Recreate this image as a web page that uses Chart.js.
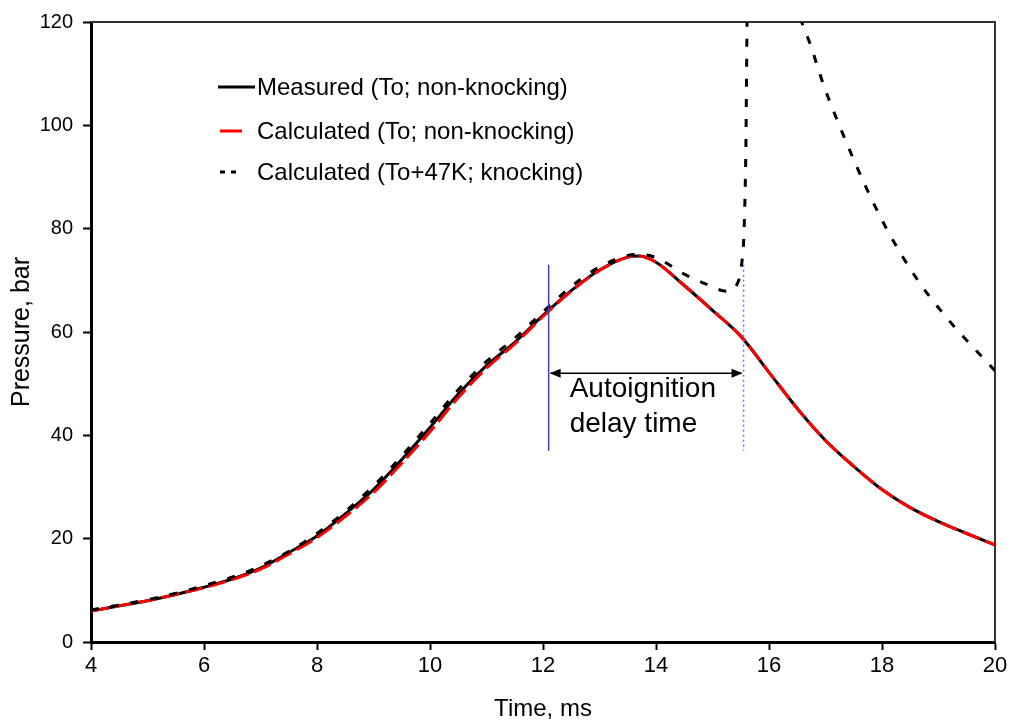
<!DOCTYPE html>
<html>
<head>
<meta charset="utf-8">
<title>Pressure vs time</title>
<script src="https://cdn.jsdelivr.net/npm/chart.js@4.4.1/dist/chart.umd.min.js"></script>
<style>
  html, body { margin: 0; padding: 0; background: #fff; }
  #wrap { width: 1013px; height: 728px; }
</style>
</head>
<body>
<div id="wrap"><canvas id="chart" width="1013" height="728"></canvas></div>
<script>
// pressure traces, time in ms, pressure in bar
const timeMs = [4.0, 4.5, 5.0, 5.5, 6.0, 6.5, 7.0, 7.5, 8.0, 8.5, 9.0, 9.5, 10.0, 10.5, 11.0, 11.5, 12.0, 12.5, 13.0, 13.5, 13.7, 14.0, 14.5, 15.0, 15.5, 16.0, 16.5, 17.0, 17.5, 18.0, 18.5, 19.0, 19.5, 20.0];
const measuredBar = [6.0, 7.0, 8.0, 9.2, 10.6, 12.2, 14.3, 17.3, 20.5, 24.8, 29.5, 35.3, 41.5, 48.0, 53.5, 58.0, 63.2, 68.0, 72.0, 74.5, 74.7, 73.5, 69.0, 64.2, 59.2, 52.2, 45.2, 39.0, 34.0, 29.5, 26.0, 23.3, 21.0, 18.8];
const calculatedBar = [6.0, 7.0, 8.0, 9.2, 10.5, 12.1, 14.1, 17.0, 20.2, 24.3, 28.9, 34.6, 40.7, 47.3, 53.0, 57.7, 63.0, 67.9, 71.9, 74.5, 74.7, 73.5, 69.0, 64.2, 59.2, 52.2, 45.2, 39.0, 34.0, 29.5, 26.0, 23.3, 21.0, 18.8];

// knocking case: follows the others, then ignites and leaves the plot
const knockTime = [4.0, 5.0, 6.0, 7.0, 8.0, 9.0, 10.0, 10.5, 11.0, 11.5, 12.0, 12.5, 13.0, 13.5, 13.7, 14.0, 14.5, 14.9, 15.25, 15.45, 15.52, 15.56, 15.59, 15.62, 16.45, 16.58, 16.73, 16.96, 17.32, 17.73, 18.08, 18.61, 19.15, 20.0];
const knockBar = [6.2, 8.2, 10.9, 14.7, 21.0, 30.2, 42.3, 48.8, 54.3, 58.8, 63.9, 68.8, 72.6, 74.8, 75.0, 74.4, 71.2, 69.2, 67.9, 69.6, 73.5, 80.0, 95.0, 125.0, 125.0, 120.0, 115.7, 108.0, 98.0, 87.7, 80.0, 70.4, 62.7, 52.5];

const xTicks = [4, 6, 8, 10, 12, 14, 16, 18, 20];
const yTicks = [0, 20, 40, 60, 80, 100, 120];

// autoignition delay markers
const delayStart = 12.1;
const delayEnd = 15.55;
const markerSpan = [37, 73];
const arrowLevel = 52;

const legendItems = ['Measured (To; non-knocking)', 'Calculated (To; non-knocking)', 'Calculated (To+47K; knocking)'];

function points(xs, ys) {
  return xs.map((x, i) => ({ x: x, y: ys[i] }));
}

const sans = "'Liberation Sans', Arial, sans-serif";

// thin frame on top and right, like the plot box
const framePlugin = {
  id: 'frame',
  beforeDatasetsDraw(chart) {
    const { ctx, chartArea: a } = chart;
    ctx.save();
    ctx.setLineDash([]);
    ctx.strokeStyle = '#333';
    ctx.lineWidth = 2;
    ctx.beginPath();
    ctx.moveTo(a.left, a.top);
    ctx.lineTo(a.right, a.top);
    ctx.lineTo(a.right, a.bottom);
    ctx.stroke();
    ctx.restore();
  }
};

// delay-time markers, arrow and text
const delayPlugin = {
  id: 'delay',
  afterDatasetsDraw(chart) {
    const { ctx, scales: { x, y } } = chart;
    const x0 = x.getPixelForValue(delayStart);
    const x1 = x.getPixelForValue(delayEnd);
    const yTop = y.getPixelForValue(markerSpan[1]);
    const yBot = y.getPixelForValue(markerSpan[0]);
    const yArr = y.getPixelForValue(arrowLevel);
    ctx.save();
    ctx.setLineDash([]);
    ctx.strokeStyle = '#3c3cd0';
    ctx.lineWidth = 1.5;
    ctx.beginPath();
    ctx.moveTo(x0, yTop);
    ctx.lineTo(x0, yBot);
    ctx.stroke();
    ctx.strokeStyle = '#7070ff';
    ctx.setLineDash([2, 3]);
    ctx.beginPath();
    ctx.moveTo(x1, yTop);
    ctx.lineTo(x1, yBot);
    ctx.stroke();
    ctx.setLineDash([]);

    ctx.strokeStyle = '#000';
    ctx.fillStyle = '#000';
    ctx.lineWidth = 1.5;
    ctx.beginPath();
    ctx.moveTo(x0 + 2, yArr);
    ctx.lineTo(x1 - 2, yArr);
    ctx.stroke();
    [[x0 + 1, 1], [x1 - 1, -1]].forEach(([px, dir]) => {
      ctx.beginPath();
      ctx.moveTo(px, yArr);
      ctx.lineTo(px + dir * 11, yArr - 4.5);
      ctx.lineTo(px + dir * 11, yArr + 4.5);
      ctx.closePath();
      ctx.fill();
    });

    ctx.font = '28px ' + sans;
    ctx.textAlign = 'left';
    ctx.textBaseline = 'alphabetic';
    ctx.fillText('Autoignition', x0 + 21, yArr + 24);
    ctx.fillText('delay time', x0 + 21, yArr + 59);
    ctx.restore();
  }
};

// legend inside the plot
const legendPlugin = {
  id: 'innerLegend',
  afterDraw(chart) {
    const { ctx } = chart;
    const rows = [87, 131, 172];
    ctx.save();
    ctx.setLineDash([]);
    ctx.lineWidth = 3;
    ctx.strokeStyle = '#000';
    ctx.beginPath();
    ctx.moveTo(218, rows[0]);
    ctx.lineTo(255, rows[0]);
    ctx.stroke();
    ctx.strokeStyle = '#ff0000';
    ctx.beginPath();
    ctx.moveTo(220, rows[1]);
    ctx.lineTo(242, rows[1]);
    ctx.stroke();
    ctx.strokeStyle = '#000';
    ctx.beginPath();
    ctx.moveTo(220, rows[2]);
    ctx.lineTo(225, rows[2]);
    ctx.moveTo(231, rows[2]);
    ctx.lineTo(236, rows[2]);
    ctx.stroke();

    ctx.fillStyle = '#000';
    ctx.font = '24px ' + sans;
    ctx.textAlign = 'left';
    ctx.textBaseline = 'middle';
    legendItems.forEach((txt, i) => ctx.fillText(txt, 257, rows[i] + 1));
    ctx.restore();
  }
};

const ctx = document.getElementById('chart').getContext('2d');
new Chart(ctx, {
  type: 'line',
  data: {
    datasets: [
      {
        label: legendItems[2],
        data: points(knockTime, knockBar),
        borderColor: '#000',
        borderWidth: 3,
        borderDash: [8, 12],
        pointRadius: 0,
        cubicInterpolationMode: 'monotone'
      },
      {
        label: legendItems[1],
        data: points(timeMs, calculatedBar),
        borderColor: '#ff0000',
        borderWidth: 3,
        borderDash: [18, 6],
        pointRadius: 0,
        cubicInterpolationMode: 'monotone'
      },
      {
        label: legendItems[0],
        data: points(timeMs, measuredBar),
        borderColor: '#000',
        borderWidth: 3,
        pointRadius: 0,
        cubicInterpolationMode: 'monotone'
      }
    ]
  },
  options: {
    responsive: false,
    animation: false,
    devicePixelRatio: 1,
    layout: { padding: { top: 19, right: 18, left: 0, bottom: 0 } },
    plugins: {
      legend: { display: false },
      tooltip: { enabled: false }
    },
    scales: {
      x: {
        type: 'linear',
        min: 4,
        max: 20,
        afterFit(scale) { scale.height = 86; },
        afterBuildTicks(scale) { scale.ticks = xTicks.map(v => ({ value: v })); },
        border: { display: true, width: 3, color: '#000' },
        grid: { drawOnChartArea: false, drawTicks: true, tickLength: 8, tickWidth: 2, tickColor: '#000' },
        ticks: { color: '#000', padding: 3, font: { family: sans, size: 22 } },
        title: { display: true, text: 'Time, ms', color: '#000', padding: { top: 0, bottom: 4 }, font: { family: sans, size: 24 } }
      },
      y: {
        type: 'linear',
        min: 0,
        max: 120,
        afterFit(scale) { scale.width = 91; },
        afterBuildTicks(scale) { scale.ticks = yTicks.map(v => ({ value: v })); },
        border: { display: true, width: 3, color: '#000' },
        grid: { drawOnChartArea: false, drawTicks: true, tickLength: 8, tickWidth: 2, tickColor: '#000' },
        ticks: { color: '#000', padding: 10, font: { family: sans, size: 20 } },
        title: { display: true, text: 'Pressure, bar', color: '#000', padding: { top: 7, bottom: 0 }, font: { family: sans, size: 25 } }
      }
    }
  },
  plugins: [framePlugin, delayPlugin, legendPlugin]
});
</script>
</body>
</html>
